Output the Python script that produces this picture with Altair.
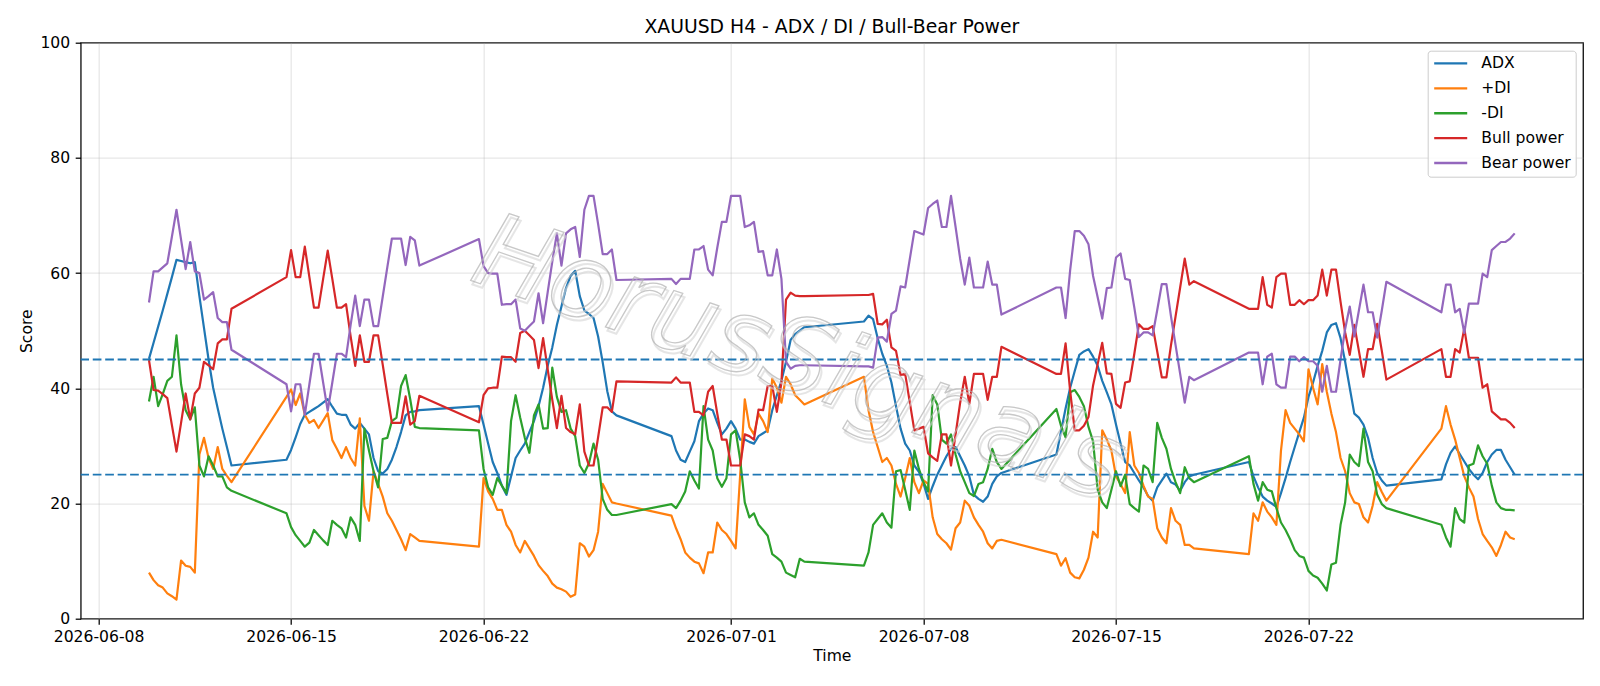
import altair as alt
import pandas as pd

# ---------------- data ----------------
SERIES = ["ADX", "+DI", "-DI", "Bull power", "Bear power"]
COLORS = ["#1f77b4", "#ff7f0e", "#2ca02c", "#d62728", "#9467bd"]

# H4 bars: first bar of each trading week and number of bars in it
WEEK_STARTS = ["2026-06-09T20:00", "2026-06-14T20:00", "2026-06-21T20:00", "2026-06-28T20:00",
               "2026-07-05T20:00", "2026-07-12T20:00", "2026-07-19T20:00", "2026-07-26T20:00"]
WEEK_BARS = [19, 30, 31, 30, 31, 31, 31, 17]

ADX = [
    45.1, 47.9, 50.7, 53.5, 56.4, 59.3, 62.3, 62.1, 61.9, 61.7, 61.9, 56.0, 50.5, 45.0, 40.1, 36.5, 33.0, 29.8, 26.6,
    27.6, 29.3, 31.5, 33.8, 35.4, 35.9, 36.4, 36.9, 37.5, 38.1, 36.8, 35.6, 35.4, 35.4, 33.7, 33.0, 34.0, 33.0, 32.0, 27.9,
    25.6, 25.2, 26.0, 27.6, 29.8, 32.4, 35.3, 35.9, 36.0, 36.2,
    36.9, 33.7, 30.4, 27.2, 25.3, 23.1, 21.5, 24.7, 27.9, 29.2, 30.4, 32.4, 34.3, 36.9, 40.1, 43.9, 47.1, 51.0, 54.2, 57.4,
    59.5, 60.4, 56.0, 53.5, 52.9, 52.2, 49.0, 44.5, 39.5, 36.0, 35.3,
    31.7, 29.2, 27.6, 27.2, 29.0, 30.8, 34.3, 35.6, 36.5, 36.2, 34.0, 32.0, 33.0, 34.3, 33.0, 31.1, 31.1, 30.7, 30.4, 31.7,
    32.2, 32.7, 36.2, 38.8, 41.3, 44.6, 48.4, 49.4, 50.0, 50.6,
    51.6, 52.6, 52.0, 48.7, 46.0, 43.9, 41.0, 36.9, 33.0, 30.4, 29.2, 26.6, 25.5, 23.5, 20.8, 23.0, 25.0, 26.6, 28.2, 29.5,
    29.8, 28.2, 26.6, 24.7, 21.5, 20.8, 20.3, 21.2, 23.4, 24.7, 25.3,
    28.5, 32.5, 36.5, 40.1, 43.0, 45.8, 46.4, 46.8, 45.5, 43.9, 41.3, 39.3, 37.2, 33.7, 30.4, 27.2, 26.6, 25.3, 24.0, 22.8,
    21.3, 20.5, 22.8, 24.0, 25.2, 23.7, 23.3, 22.2, 23.7, 24.7, 25.0,
    27.2, 24.7, 22.8, 21.2, 20.5, 20.0, 19.4, 21.8, 24.4, 27.2, 29.8, 32.4, 34.9, 38.5, 41.0, 43.9, 46.5, 49.7, 51.0, 51.3,
    48.7, 44.6, 40.1, 35.6, 34.9, 33.7, 31.4, 27.9, 25.3, 24.0, 23.1,
    24.2, 26.8, 28.8, 29.9, 28.6, 27.3, 26.0, 25.0, 24.2, 25.3, 27.2, 28.5, 29.3, 29.3, 27.6, 26.3, 25.0,
]

PLUS_DI = [
    8.0, 6.7, 5.8, 5.4, 4.4, 3.9, 3.3, 10.1, 9.2, 9.0, 8.0, 28.5, 31.4, 27.9, 26.0, 29.8, 26.0, 24.8, 23.7,
    38.5, 39.8, 37.1, 39.1, 35.4, 34.0, 34.5, 33.1, 34.4, 35.7, 31.0, 29.5, 27.9, 29.8, 27.9, 26.6, 34.8, 19.6, 17.0, 25.6,
    23.4, 21.2, 18.3, 17.0, 15.4, 13.8, 11.9, 14.7, 14.1, 13.5,
    12.5, 24.4, 22.1, 20.8, 18.9, 18.9, 16.3, 15.1, 12.8, 11.5, 13.5, 12.2, 10.9, 9.3, 8.3, 7.4, 6.1, 5.4, 5.1, 4.7,
    3.8, 4.2, 13.1, 12.5, 10.8, 11.9, 15.1, 23.4, 21.8, 20.2, 20.0,
    17.9, 15.7, 13.8, 11.5, 10.6, 9.9, 9.6, 7.9, 11.5, 11.5, 16.7, 15.4, 14.7, 13.5, 12.2, 25.0, 38.1, 33.3, 32.0, 35.6,
    34.3, 32.4, 41.7, 40.1, 37.5, 42.0, 40.7, 38.8, 38.0, 37.2,
    42.0, 36.2, 32.4, 29.8, 27.2, 27.9, 26.6, 23.4, 21.2, 24.4, 27.9, 23.7, 21.8, 24.0, 23.4, 17.6, 14.7, 13.8, 13.1, 12.0,
    15.7, 16.7, 20.5, 19.6, 17.6, 16.3, 15.1, 13.1, 12.2, 13.5, 13.7,
    11.2, 9.2, 10.5, 8.0, 7.2, 7.0, 8.5, 10.6, 15.1, 14.1, 32.7, 31.1, 29.2, 24.7, 23.4, 21.8, 32.4, 26.6, 25.3, 23.1,
    21.2, 20.8, 15.7, 14.1, 13.1, 19.2, 17.0, 16.3, 12.8, 12.8, 12.2,
    11.2, 18.3, 17.0, 20.2, 18.6, 17.6, 16.3, 29.2, 36.2, 34.0, 33.0, 32.0, 30.8, 43.3, 40.1, 37.2, 44.2, 39.4, 35.6, 32.4,
    27.9, 25.6, 21.8, 20.2, 19.9, 17.6, 16.7, 19.6, 23.7, 22.0, 20.5,
    33.0, 36.9, 33.7, 31.1, 27.9, 24.7, 22.8, 21.2, 17.3, 14.7, 13.5, 12.4, 10.9, 12.8, 15.1, 14.1, 13.8,
]

MINUS_DI = [
    37.7, 42.0, 36.9, 39.0, 41.3, 42.0, 49.2, 40.7, 36.2, 34.6, 36.7, 26.6, 24.7, 28.2, 26.6, 24.7, 24.7, 22.8, 22.2,
    18.3, 15.9, 14.5, 13.5, 12.5, 13.2, 15.4, 14.5, 13.6, 12.8, 17.0, 16.3, 15.7, 14.1, 17.6, 16.3, 13.5, 33.0, 29.2, 25.6,
    22.8, 31.2, 31.4, 34.3, 34.9, 40.4, 42.3, 38.1, 33.3, 33.1,
    32.7, 26.0, 22.8, 21.5, 24.4, 23.1, 21.8, 34.3, 38.8, 34.9, 31.4, 28.8, 35.3, 37.2, 33.0, 33.1, 43.6, 38.5, 35.9, 36.2,
    33.0, 31.7, 26.6, 25.3, 27.0, 30.4, 27.6, 20.8, 18.9, 18.0, 18.0,
    19.9, 19.2, 20.5, 22.1, 25.6, 24.0, 22.6, 36.9, 31.1, 29.2, 24.4, 22.9, 24.4, 32.0, 32.7, 27.6, 20.2, 17.6, 18.3, 16.3,
    15.4, 14.4, 11.2, 10.6, 9.9, 8.0, 7.6, 7.2, 10.4, 9.9,
    9.2, 11.5, 16.3, 17.3, 18.3, 16.7, 15.8, 25.6, 25.8, 22.4, 18.9, 29.2, 26.0, 23.7, 22.1, 38.8, 37.2, 31.1, 30.4, 32.0,
    28.5, 25.6, 23.7, 21.8, 21.3, 23.4, 23.7, 26.0, 29.5, 27.2, 26.0,
    36.4, 33.5, 31.5, 39.3, 39.7, 38.5, 36.9, 33.3, 30.8, 22.4, 20.2, 19.2, 22.4, 25.6, 23.0, 25.0, 19.9, 19.2, 18.6, 26.6,
    26.0, 23.7, 34.0, 31.4, 29.5, 26.0, 23.7, 21.8, 26.3, 24.4, 23.7,
    28.2, 23.4, 20.5, 23.7, 22.4, 22.1, 19.2, 16.7, 15.4, 13.8, 11.9, 10.9, 10.6, 8.3, 7.5, 7.1, 6.1, 4.9, 9.4, 9.7,
    16.3, 20.2, 28.5, 27.2, 26.5, 33.0, 27.2, 25.6, 21.5, 19.9, 19.2,
    16.3, 14.1, 12.5, 19.2, 17.3, 16.7, 26.6, 26.9, 30.1, 28.2, 26.9, 23.1, 20.2, 19.2, 18.9, 18.9, 18.8,
]

BULL = [
    44.9, 39.7, 39.6, 39.0, 38.3, 33.6, 29.0, 34.0, 39.1, 34.6, 39.1, 40.1, 44.6, 44.0, 43.3, 47.8, 48.5, 48.5, 53.8,
    59.3, 64.0, 59.3, 59.3, 64.6, 59.3, 54.0, 54.0, 59.0, 63.9, 59.0, 54.0, 54.0, 54.6, 49.0, 43.9, 49.2, 44.6, 44.6, 49.2,
    49.2, 44.1, 39.0, 34.0, 34.0, 34.0, 38.6, 33.7, 34.3, 38.7,
    34.1, 38.8, 40.0, 40.1, 40.1, 45.5, 45.4, 45.4, 44.6, 49.6, 50.0, 49.2, 48.4, 43.5, 48.7, 43.3, 38.0, 33.1, 38.7, 33.1,
    32.4, 32.0, 37.2, 29.0, 26.6, 26.6, 31.5, 36.7, 36.7, 35.9, 41.2,
    41.0, 41.9, 41.0, 41.0, 41.0, 35.9, 35.9, 35.3, 39.4, 40.4, 35.6, 31.1, 31.1, 26.6, 26.6, 26.6, 32.0, 31.7, 31.1, 36.3,
    36.2, 40.4, 40.4, 35.9, 41.0, 55.4, 56.6, 56.1, 56.0, 56.0,
    56.2, 56.2, 56.4, 51.2, 51.1, 51.9, 47.1, 46.5, 42.3, 42.5, 37.6, 32.7, 33.0, 33.3, 28.7, 28.0, 27.4, 32.0, 32.0, 26.6,
    32.0, 37.5, 42.0, 37.3, 42.5, 42.5, 42.5, 38.0, 42.0, 42.0, 47.2,
    42.5, 42.5, 47.8, 39.5, 32.7, 32.7, 33.5, 35.0, 40.5, 44.2, 47.9, 42.6, 42.5, 37.3, 36.6, 41.0, 41.2, 46.0, 51.1, 50.3,
    50.3, 50.8, 46.4, 41.9, 41.9, 47.5, 52.5, 57.5, 62.5, 58.0, 58.6,
    53.8, 53.8, 53.8, 59.3, 54.5, 54.0, 59.3, 59.9, 59.9, 54.5, 54.5, 55.3, 54.6, 55.3, 55.3, 56.1, 60.6, 56.1, 60.6, 60.6,
    55.0, 49.7, 45.8, 51.0, 46.5, 42.0, 46.8, 46.8, 51.2, 46.5, 41.5,
    46.8, 42.0, 42.0, 46.8, 46.2, 50.4, 45.3, 45.3, 45.3, 40.1, 40.7, 36.0, 35.3, 34.6, 34.6, 34.0, 33.1,
]

BEAR = [
    54.9, 60.3, 60.3, 61.0, 61.7, 66.3, 71.0, 65.8, 60.7, 65.4, 60.3, 60.0, 55.4, 56.0, 56.7, 52.2, 51.5, 51.5, 46.7,
    40.7, 36.0, 40.7, 40.7, 35.4, 40.7, 46.0, 46.0, 41.0, 36.1, 41.0, 46.0, 46.0, 45.4, 51.0, 56.1, 50.8, 55.4, 55.4, 50.8,
    50.8, 55.9, 61.0, 66.0, 66.0, 66.0, 61.4, 66.3, 65.7, 61.3,
    65.9, 61.2, 60.0, 59.9, 59.9, 54.5, 54.6, 54.6, 55.4, 50.4, 50.0, 50.8, 51.6, 56.5, 51.3, 56.7, 62.0, 66.9, 61.3, 66.9,
    67.6, 68.0, 62.8, 71.0, 73.4, 73.4, 68.5, 63.3, 63.3, 64.1, 58.8,
    59.0, 58.1, 59.0, 59.0, 59.0, 64.1, 64.1, 64.7, 60.6, 59.6, 64.4, 68.9, 68.9, 73.4, 73.4, 73.4, 68.0, 68.3, 68.9, 63.7,
    63.8, 59.6, 59.6, 64.1, 59.0, 44.6, 43.4, 43.9, 44.0, 44.0,
    43.8, 43.8, 43.6, 48.8, 48.9, 48.1, 52.9, 53.5, 57.7, 57.5, 62.4, 67.3, 67.0, 66.7, 71.3, 72.0, 72.6, 68.0, 68.0, 73.4,
    68.0, 62.5, 58.0, 62.7, 57.5, 57.5, 57.5, 62.0, 58.0, 58.0, 52.8,
    57.5, 57.5, 52.2, 60.5, 67.3, 67.3, 66.5, 65.0, 59.5, 55.8, 52.1, 57.4, 57.5, 62.7, 63.4, 59.0, 58.8, 54.0, 48.9, 49.7,
    49.7, 49.2, 53.6, 58.1, 58.1, 52.5, 47.5, 42.5, 37.5, 42.0, 41.4,
    46.2, 46.2, 46.2, 40.7, 45.5, 46.0, 40.7, 40.1, 40.1, 45.5, 45.5, 44.7, 45.4, 44.7, 44.7, 43.9, 39.4, 43.9, 39.4, 39.4,
    45.0, 50.3, 54.2, 49.0, 53.5, 58.0, 53.2, 53.2, 48.8, 53.5, 58.5,
    53.2, 58.0, 58.0, 53.2, 53.8, 49.6, 54.7, 54.7, 54.7, 59.9, 59.3, 64.0, 64.7, 65.4, 65.4, 66.0, 66.9,
]

LEVELS = [25, 45]
Y_TICKS = [0, 20, 40, 60, 80, 100]
X_TICKS = [(6, 8), (6, 15), (6, 22), (7, 1), (7, 8), (7, 15), (7, 22)]
TITLE = "XAUUSD H4 - ADX / DI / Bull-Bear Power"
WATERMARK = "HorusSignals"

# ---------------- build table ----------------
times = []
for start, n in zip(WEEK_STARTS, WEEK_BARS):
    times.extend(pd.date_range(start, periods=n, freq="4h"))
time_str = [t.strftime("%Y-%m-%dT%H:%M:%SZ") for t in times]

wide = pd.DataFrame({"time": time_str, "ADX": ADX, "+DI": PLUS_DI, "-DI": MINUS_DI,
                     "Bull power": BULL, "Bear power": BEAR})
long = wide.melt(id_vars="time", value_vars=SERIES, var_name="series", value_name="value")

FONT = "DejaVu Sans"
W, H = 1502.3, 576

x_scale = alt.Scale(
    type="utc",
    domain=[alt.DateTime(year=2026, month=6, date=7, hours=8, minutes=24, utc=True),
            alt.DateTime(year=2026, month=7, date=31, hours=23, minutes=36, utc=True)],
    nice=False,
)
y_scale = alt.Scale(domain=[0, 100], nice=False)

x_axis = alt.Axis(
    values=[alt.DateTime(year=2026, month=m, date=d, utc=True) for m, d in X_TICKS],
    labelExpr="utcFormat(datum.value, '%Y-%m-%d')", title="Time", labelAngle=0,
    labelFlush=False, labelOverlap=False, titlePadding=3,
)
y_axis = alt.Axis(values=Y_TICKS, title="Score", titlePadding=5)

legend = alt.Legend(
    title=None, orient="top-right", offset=7.8,
    fillColor="rgba(255,255,255,0.8)", strokeColor="#cccccc", cornerRadius=3,
    padding=4.2, symbolType="M-0.886,0H3.83", symbolSize=196, symbolStrokeWidth=2.35,
    labelFont=FONT, labelFontSize=15.6, labelColor="black", labelOffset=32.4,
    rowPadding=6.9, labelLimit=300,
)

lines = alt.Chart(long).mark_line(strokeWidth=2.2, strokeJoin="round").encode(
    x=alt.X("time:T", scale=x_scale, axis=x_axis),
    y=alt.Y("value:Q", scale=y_scale, axis=y_axis),
    color=alt.Color("series:N", scale=alt.Scale(domain=SERIES, range=COLORS), legend=legend),
)

rules = alt.Chart(pd.DataFrame({"level": LEVELS})).mark_rule(
    color="#1f77b4", strokeWidth=1.8, strokeDash=[8.7, 3.75]
).encode(y=alt.Y("level:Q", scale=y_scale))

wm_df = pd.DataFrame({"t": [WATERMARK]})
wm_shadow = alt.Chart(wm_df).mark_text(
    font=FONT, fontSize=104, fontStyle="italic", angle=19, align="center", baseline="middle",
    fillOpacity=0, stroke="#d4d4d4", strokeWidth=2.0, strokeOpacity=0.6, dx=3, dy=3,
).encode(text="t:N", x=alt.value(718), y=alt.value(318))
wm_main = alt.Chart(wm_df).mark_text(
    font=FONT, fontSize=104, fontStyle="italic", angle=19, align="center", baseline="middle",
    fillOpacity=0, stroke="#b0b0b0", strokeWidth=1.3, strokeOpacity=0.7,
).encode(text="t:N", x=alt.value(718), y=alt.value(318))

title_mark = alt.Chart(pd.DataFrame({"t": [TITLE]})).mark_text(
    font=FONT, fontSize=18.8, color="black", align="center", baseline="alphabetic",
).encode(text="t:N", x=alt.value(W / 2), y=alt.value(-9.4))

chart = alt.layer(lines, rules, wm_shadow, wm_main, title_mark).properties(
    width=W, height=H,
    background="white",
    autosize=alt.AutoSizeParams(type="none"),
    padding={"left": 80.7, "top": 42.7, "right": 17, "bottom": 67.3},
).configure_view(
    stroke="black", strokeWidth=1.25
).configure_axis(
    labelFont=FONT, labelFontSize=15.6, labelColor="black",
    titleFont=FONT, titleFontSize=15.6, titleFontWeight="normal", titleColor="black",
    tickColor="black", tickSize=5.5, tickWidth=1.25, labelPadding=5.5,
    domain=False, gridColor="#b0b0b0", gridOpacity=0.3, gridWidth=1.25,
)

chart.save("out.html", embed_options={"renderer": "svg", "actions": False})
